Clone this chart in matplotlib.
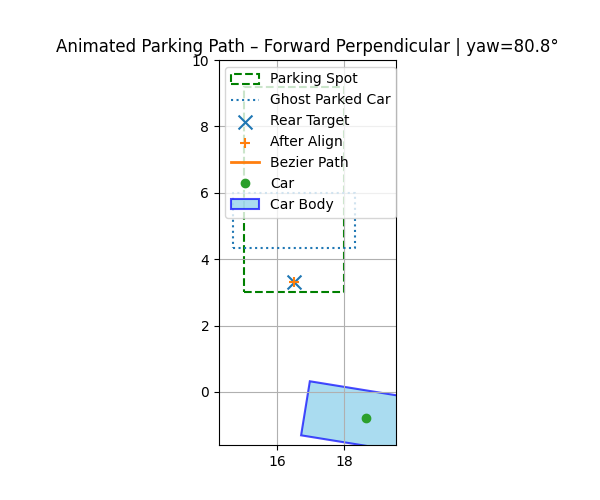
import matplotlib.pyplot as plt
import numpy as np
from matplotlib.patches import Rectangle, Polygon

# parking spot (lower-left corner, width, depth)
spot_xy = (15.0, 3.0)
spot_w, spot_d = 3.0, 6.2

# ghost parked car outline corners
ghost_x = [14.65, 18.35, 18.35, 14.65, 14.65]
ghost_y = [4.35, 4.35, 6.0, 6.0, 4.35]

rear_target = (16.5, 3.3)
after_align = (16.5, 3.3)

# bezier path (nothing left to draw in this frame)
path_x = []
path_y = []

car_x, car_y = 18.67, -0.79
yaw = 80.8
car_len, car_wid = 3.7, 1.65

fig, ax = plt.subplots(figsize=(6, 5), dpi=100)

ax.add_patch(Rectangle(spot_xy, spot_w, spot_d, fill=False, edgecolor='green',
                       linestyle='--', linewidth=1.5, label='Parking Spot'))
ax.plot(ghost_x, ghost_y, ':', color='tab:blue', linewidth=1.5, label='Ghost Parked Car')
ax.scatter(*rear_target, marker='x', color='tab:blue', s=100, label='Rear Target')
ax.scatter(*after_align, marker='+', color='tab:orange', s=60, label='After Align')
ax.plot(path_x, path_y, '-', color='tab:orange', linewidth=2, label='Bezier Path')
ax.plot(car_x, car_y, 'o', color='tab:green', label='Car')

# car body polygon around the car position
h = np.deg2rad(yaw - 90)
c, s = np.cos(h), np.sin(h)
local = np.array([[-car_len / 2, -car_wid / 2], [car_len / 2, -car_wid / 2],
                  [car_len / 2, car_wid / 2], [-car_len / 2, car_wid / 2]])
R = np.array([[c, -s], [s, c]])
corners = local @ R.T + np.array([car_x, car_y])
ax.add_patch(Polygon(corners, closed=True, facecolor='skyblue', edgecolor='blue',
                     alpha=0.7, linewidth=1.5, label='Car Body'))

ax.set_xlim(14.24, 19.57)
ax.set_ylim(-1.6, 10)
ax.set_aspect('equal')
ax.grid(True)
ax.set_title(f'Animated Parking Path – Forward Perpendicular | yaw={yaw:.1f}°')
ax.legend(loc='upper right', bbox_to_anchor=(1.04, 1.0))

plt.savefig('out.png')
